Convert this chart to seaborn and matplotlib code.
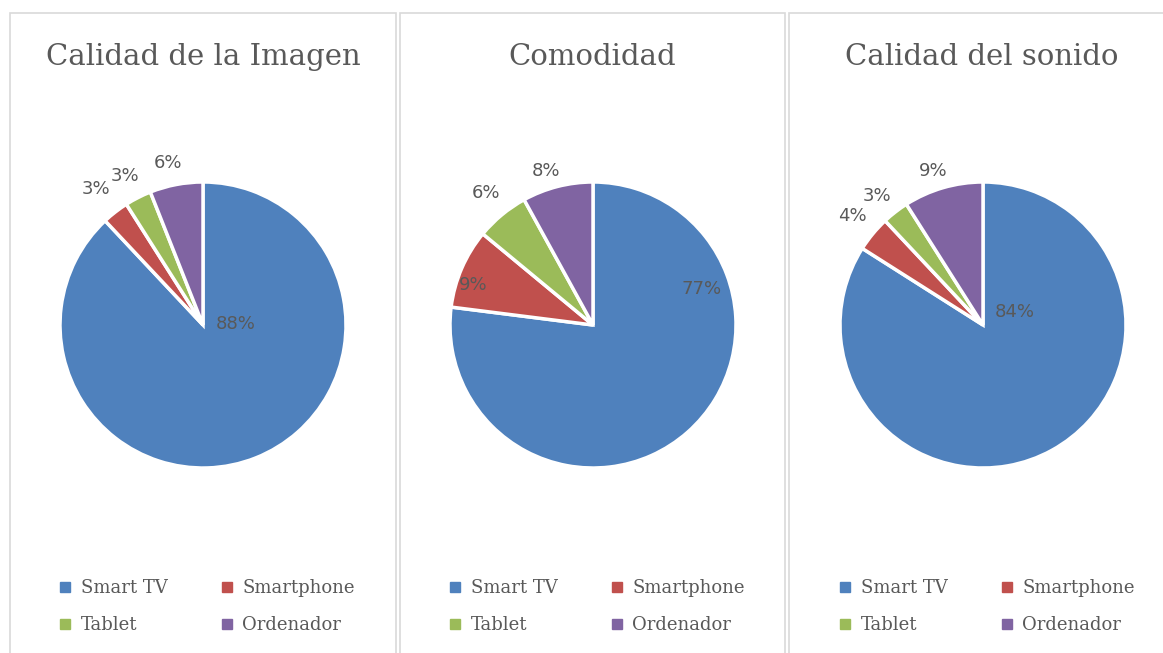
import matplotlib
matplotlib.use("Agg")
import matplotlib.pyplot as plt
from matplotlib.lines import Line2D
from matplotlib.patches import Rectangle
import seaborn as sns

# Survey results: preferred device per aspect (percent)
titles = ["Calidad de la Imagen", "Comodidad", "Calidad del sonido"]
devices = ["Smart TV", "Smartphone", "Tablet", "Ordenador"]
imagen = [88, 3, 3, 6]
comodidad = [77, 9, 6, 8]
sonido = [84, 4, 3, 9]
series = [imagen, comodidad, sonido]

colors = sns.color_palette(["#4F81BD", "#C0504D", "#9BBB59", "#8064A2"])
text_gray = "#595959"

sns.set_theme(style="white")
plt.rcParams["font.family"] = ["DejaVu Serif", "DejaVu Sans"]

W, H = 1163, 653
fig = plt.figure(figsize=(W / 100, H / 100), dpi=100)
fig.patch.set_facecolor("white")

# Label anchor points for each slice, in units of pie radius
label_pos = [
    [(0.23, 0.01), (-0.75, 0.95), (-0.545, 1.04), (-0.245, 1.13)],
    [(0.76, 0.25), (-0.84, 0.28), (-0.75, 0.92), (-0.33, 1.08)],
    [(0.22, 0.09), (-0.91, 0.76), (-0.74, 0.90), (-0.35, 1.08)],
]

panel_left = [10, 400, 789]
panel_right = [396, 785, 1175]
centers_x = [203, 593, 983]
cy, R = 325, 143

# legend is filled column by column; this order gives rows
# "Smart TV, Smartphone" and "Tablet, Ordenador"
leg_order = [0, 2, 1, 3]

for i, vals in enumerate(series):
    # panel frame
    x0, x1 = panel_left[i], panel_right[i]
    fig.patches.append(Rectangle((x0 / W, -0.1), (x1 - x0) / W, (H - 13) / H + 0.1,
                                 transform=fig.transFigure, fill=False,
                                 edgecolor="#D9D9D9", linewidth=1.2, zorder=0))

    cx = centers_x[i]
    ax = fig.add_axes([(cx - R) / W, (H - cy - R) / H, 2 * R / W, 2 * R / H])
    ax.pie(vals, colors=colors, startangle=90, counterclock=False, radius=1,
           wedgeprops=dict(edgecolor="white", linewidth=2.5))
    ax.set_xlim(-1, 1)
    ax.set_ylim(-1, 1)
    ax.set_aspect("equal")
    ax.axis("off")

    for v, (lx, ly) in zip(vals, label_pos[i]):
        ax.text(lx, ly, f"{v}%", ha="center", va="center", fontsize=13,
                color=text_gray, family="DejaVu Sans", clip_on=False)

    fig.text((x0 + x1) / 2 / W, 1 - 57 / H, titles[i], ha="center", va="center",
             fontsize=21, color=text_gray)

    handles = [Line2D([0], [0], marker="s", linestyle="none", markersize=7,
                      markerfacecolor=colors[k], markeredgecolor=colors[k])
               for k in leg_order]
    labels = [devices[k] for k in leg_order]
    leg = fig.legend(handles, labels, ncol=2, loc="upper left",
                     bbox_to_anchor=((cx - 144) / W, 1 - 579 / H),
                     frameon=False, fontsize=13, handlelength=0.7,
                     handletextpad=0.5, columnspacing=2.95, labelspacing=1.07,
                     borderaxespad=0, borderpad=0)
    for t in leg.get_texts():
        t.set_color(text_gray)

fig.savefig("out.png", dpi=100, facecolor="white")
